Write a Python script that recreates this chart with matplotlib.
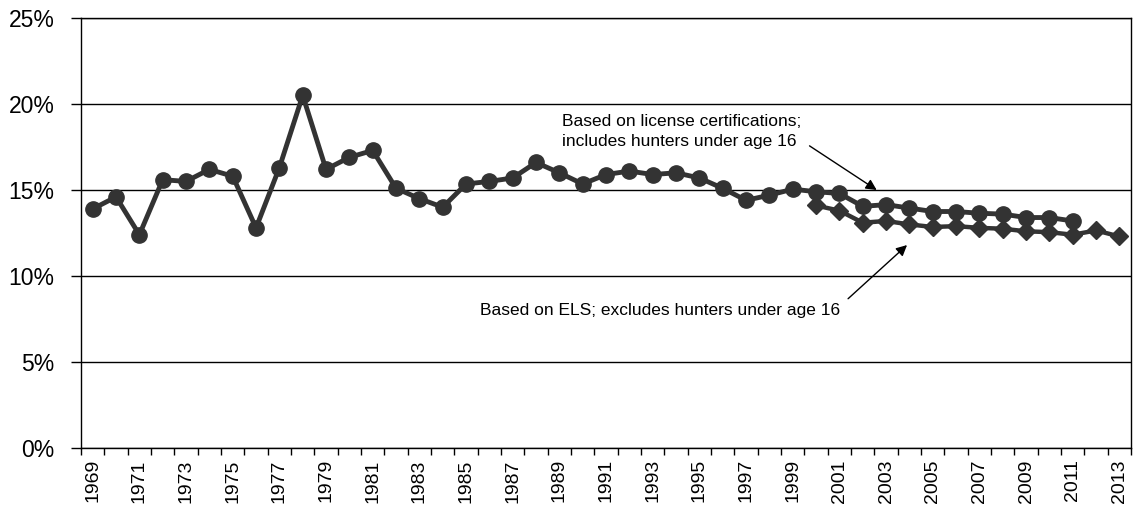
import numpy as np
import matplotlib.pyplot as plt
from matplotlib.ticker import FuncFormatter

plt.rcParams['font.family'] = ['Liberation Sans', 'DejaVu Sans']

years = list(range(1969, 2014))

# license certifications (1969-2011)
license_pct = [13.9, 14.6, 12.4, 15.6, 15.5, 16.2, 15.8, 12.8, 16.3, 20.5,
               16.2, 16.9, 17.3, 15.1, 14.5, 14.0, 15.35, 15.5, 15.7, 16.6,
               16.0, 15.35, 15.9, 16.1, 15.9, 16.0, 15.7, 15.1, 14.4, 14.7,
               15.05, 14.9, 14.8, 14.05, 14.15, 13.95, 13.75, 13.75, 13.65, 13.6,
               13.4, 13.4, 13.2]
license_years = years[:len(license_pct)]

# ELS (2000-2013)
els_years = list(range(2000, 2014))
els_pct = [14.1, 13.8, 13.1, 13.2, 13.0, 12.85, 12.9, 12.8, 12.75, 12.6,
           12.55, 12.4, 12.65, 12.3]

color = '#333333'

fig = plt.figure(figsize=(11.35, 5.08), dpi=100)
ax = fig.add_axes([0.0714, 0.118, 0.9251, 0.8466])

xi_lic = [years.index(y) for y in license_years]
xi_els = [years.index(y) for y in els_years]

ax.plot(xi_els, els_pct, color=color, lw=3.2, marker='D', ms=9.5, zorder=3)
ax.plot(xi_lic, license_pct, color=color, lw=3.5, marker='o', ms=11, zorder=4)

ax.set_xlim(-0.5, len(years) - 0.5)
ax.set_ylim(0, 25)
ax.set_yticks(range(0, 26, 5))
ax.yaxis.set_major_formatter(FuncFormatter(lambda v, p: f'{v:.0f}%'))
ax.grid(axis='y', color='black', lw=1)
ax.set_axisbelow(True)

ax.set_xticks(range(0, len(years), 2))
ax.set_xticklabels([str(y) for y in years[::2]], rotation=90)
ax.set_xticks(np.arange(-0.5, len(years), 1), minor=True)
ax.tick_params(axis='x', which='major', length=0, labelsize=14, pad=8)
ax.tick_params(axis='x', which='minor', length=5, width=1, direction='out')
ax.tick_params(axis='y', length=7, width=1, labelsize=16.5, pad=12)

for s in ax.spines.values():
    s.set_color('black')
    s.set_linewidth(1)

ax.annotate('Based on license certifications;\nincludes hunters under age 16',
            xy=(33.6, 15.0), xytext=(20.1, 18.4), fontsize=12.5,
            ha='left', va='center', linespacing=1.4,
            arrowprops=dict(arrowstyle='-|>', color='black', lw=1,
                            mutation_scale=16, shrinkA=5, shrinkB=0,
                            relpos=(1.0, 0.25)))
ax.annotate('Based on ELS; excludes hunters under age 16',
            xy=(34.9, 11.8), xytext=(16.6, 8.0), fontsize=12.5,
            ha='left', va='center',
            arrowprops=dict(arrowstyle='-|>', color='black', lw=1,
                            mutation_scale=16, shrinkA=5, shrinkB=0,
                            relpos=(1.0, 0.8)))

fig.savefig('out.png', dpi=100)
